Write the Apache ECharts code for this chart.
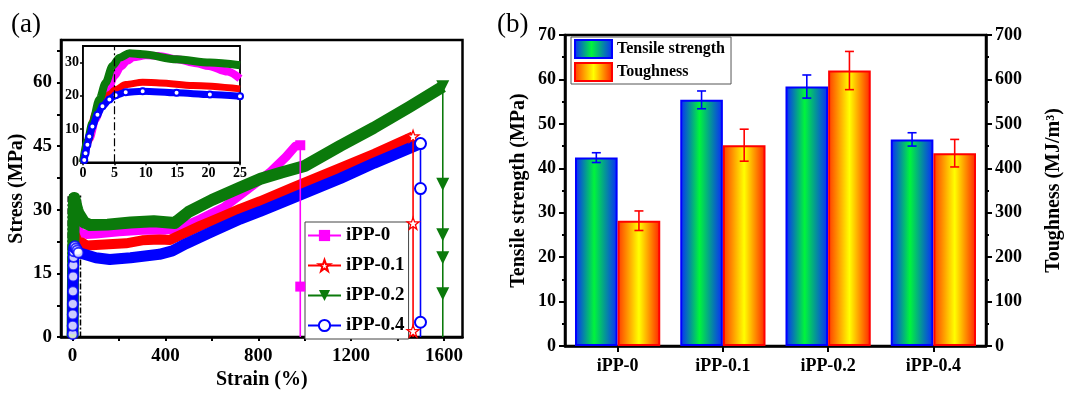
<!DOCTYPE html>
<html><head><meta charset="utf-8">
<script src="https://cdn.jsdelivr.net/npm/echarts@6/dist/echarts.min.js"></script>
<style>html,body{margin:0;padding:0;background:#fff}#c{width:1065px;height:395px}</style>
</head><body><div id="c"></div>
<script>
// ---------- Panel (a): stress-strain curves ----------
const sampleNames = ['iPP-0', 'iPP-0.1', 'iPP-0.2', 'iPP-0.4'];
// early part (0-25 % strain, also drawn in the inset)
const iPP0_early = [[0,0],[1,7],[2,13],[3,18],[4,22],[5,26],[6,28.8],[7,30.5],[8,31.6],[10,32.2],[12,32],[15,31],[18,29.8],[20,29],[23,27.3],[25,25.2]];
const iPP01_early = [[0,0],[0.7,5.8],[2,14.8],[3.1,18.4],[4.2,20.4],[5.2,21.9],[6.8,23.4],[9.5,24.1],[12.2,23.9],[17.5,23.1],[25,22.1]];
const iPP02_early = [[0,0],[0.7,6.3],[1.5,11.8],[2.6,18.9],[3.6,23.9],[4.7,29],[5.8,31.5],[7.4,32.8],[9.5,32.5],[14.9,31],[20.2,30],[25,29.2]];
const iPP04_early = [[0.2,0.7],[0.4,2.7],[0.7,5.3],[1,7.8],[1.5,10.8],[2.3,14.3],[3.1,16.9],[4.2,18.9],[5.2,20.2],[6.8,21.1],[9.5,21.4],[14.9,20.9],[20.2,20.4],[25,19.9]];
// later part (beyond 25 % strain)
const iPP0_late = [[35,24.5],[60,24.2],[100,24.3],[200,24.8],[300,25.2],[400,25.2],[460,25.6],[550,27.8],[650,30.5],[750,34.6],[850,38.8],[920,42.5],[960,45],[981,45.2]];
const iPP01_late = [[40,22.3],[60,21.6],[100,21.7],[230,22.1],[300,22.8],[374,23],[420,22.9],[460,23.9],[550,26.2],[650,28.5],[722,30.2],[808,32],[950,35.3],[1154,39.9],[1300,43.2],[1467,47.3]];
const iPP02_late = [[35,28.3],[50,27],[75,26.4],[150,26.5],[250,27],[350,27.3],[440,26.9],[500,29.5],[600,32.3],[720,35.2],[810,37.3],[900,38.8],[1000,40.3],[1154,45.1],[1297,49.3],[1450,54.2],[1595,59]];
const iPP04_late = [[50,19.5],[100,18.7],[160,18.3],[250,18.7],[374,19.5],[430,20.3],[489,22],[600,24.8],[722,27.8],[808,29.6],[950,32.8],[1154,37.4],[1300,41],[1499,45.6]];
// fracture: strain at break, stress at break, markers on the drop line
const breakStrain = [981, 1467, 1595, 1499];
const breakStress = [45.2, 47.3, 59, 45.6];
const dropMarks = [[11.9], [26.8, 1.4], [36, 24.1, 18.7, 10.2], [35, 3.5]];
// dashed zoom box [xFrom, xTo, yTo] and inset guide line
const zoomBox = [-19, 34, 33.5];
const insetGuide = 5;
// tick labels and tick marks
const strainTicks = [0, 400, 800, 1200, 1600];
const strainTickMarks = [0, 200, 400, 600, 800, 1000, 1200, 1400, 1600];
const stressTicks = [0, 15, 30, 45, 60];
const stressTickMarks = [0, 7.5, 15, 22.5, 30, 37.5, 45, 52.5, 60, 67.5];

// ---------- Panel (b): bars ----------
const categories = ['iPP-0', 'iPP-0.1', 'iPP-0.2', 'iPP-0.4'];
const tensile = [42.4, 55.4, 58.4, 46.5];
const tensileErr = [1.1, 2.0, 2.6, 1.5];
const toughness = [282, 452, 620, 434];
const toughnessErr = [22, 36, 43, 31];

const FONT = 'Liberation Serif';
const colors = ['#ff00ff', '#ff0000', '#0b7a0b', '#0000ff'];
const bandWidths = [9, 10, 12, 11];
const insetWidths = [8, 7, 8, 7];
const early = [iPP0_early, iPP01_early, iPP02_early, iPP04_early];
const late = [iPP0_late, iPP01_late, iPP02_late, iPP04_late];
const starPath = 'path://M12,0 L14.9,8.3 L23.4,8.3 L16.5,13.5 L19.1,22 L12,16.8 L4.9,22 L7.5,13.5 L0.6,8.3 L9.1,8.3 Z';
const symbols = ['rect', starPath, 'triangle', 'emptyCircle'];
const symbolSizes = [10, 12, 13, 11];

const lbl = (size) => ({ fontFamily: FONT, fontWeight: 'bold', fontSize: size, color: '#000' });
const plain = (v) => String(v);
const axisLineStyle = (w) => ({ show: true, onZero: false, lineStyle: { color: '#000', width: w } });

const series = [];
// main bands
for (let i = 0; i < 4; i++) {
  series.push({
    type: 'line', name: sampleNames[i] + ' curve', xAxisIndex: 0, yAxisIndex: 0,
    data: early[i].concat(late[i]), showSymbol: false, symbol: 'none', smooth: false,
    lineStyle: { color: colors[i], width: bandWidths[i], cap: 'butt', join: 'round' },
    z: 2 + i * 0.1, silent: true
  });
}
// drop lines with markers (legend entries)
for (let i = 0; i < 4; i++) {
  const d = [{ value: [breakStrain[i], breakStress[i]] }]
    .concat(dropMarks[i].map(m => ({ value: [breakStrain[i], m] })))
    .concat([{ value: [breakStrain[i], 0], symbol: 'none' }]);
  const hollowStar = i === 1;
  series.push({
    type: 'line', name: sampleNames[i], xAxisIndex: 0, yAxisIndex: 0, data: d,
    symbol: symbols[i], symbolSize: symbolSizes[i], symbolRotate: i === 2 ? 180 : 0,
    showSymbol: true, showAllSymbol: true,
    lineStyle: { color: colors[i], width: 1.6 },
    itemStyle: hollowStar ? { color: '#fff', borderColor: colors[i], borderWidth: 1.3 }
                          : { color: colors[i], borderWidth: i === 3 ? 1.5 : 0, borderColor: colors[i] },
    z: 4
  });
}
// hollow circles of the iPP-0.4 elastic region in main plot + dashed zoom box
series.push({
  type: 'scatter', name: 'iPP-0.4 early', xAxisIndex: 0, yAxisIndex: 0, data: iPP04_early,
  symbol: 'emptyCircle', symbolSize: 10, itemStyle: { color: colors[3], borderWidth: 1.2 }, z: 5, silent: true,
  markArea: { silent: true, itemStyle: { color: 'rgba(0,0,0,0)', borderColor: '#000', borderWidth: 1.5, borderType: [6, 2, 2, 2] },
    data: [[{ coord: [zoomBox[0], 0] }, { coord: [zoomBox[1], zoomBox[2]] }]] }
});
// inset
for (let i = 0; i < 4; i++) {
  series.push({
    type: 'line', name: sampleNames[i] + ' inset', xAxisIndex: 1, yAxisIndex: 1,
    data: early[i], smooth: 0.3, smoothMonotone: 'x',
    symbol: i === 3 ? 'emptyCircle' : 'none', showSymbol: i === 3, showAllSymbol: true, symbolSize: 6,
    itemStyle: { color: colors[i], borderWidth: 1 },
    lineStyle: { color: colors[i], width: insetWidths[i] },
    z: 3, silent: true,
    markLine: i === 0 ? { silent: true, symbol: 'none', label: { show: false },
      lineStyle: { color: '#000', width: 1.2, type: [8, 3, 2, 3] }, data: [{ xAxis: insetGuide }] } : undefined
  });
}
// bars
const GAP = 0.19;
const blueGrad = { type: 'linear', x: 0, y: 0, x2: 1, y2: 0, colorStops: [
  { offset: 0, color: '#0a28ff' }, { offset: 0.45, color: '#00f53c' }, { offset: 1, color: '#0a28ff' }] };
const orangeGrad = { type: 'linear', x: 0, y: 0, x2: 1, y2: 0, colorStops: [
  { offset: 0, color: '#ff3a00' }, { offset: 0.5, color: '#ffff00' }, { offset: 1, color: '#ff2200' }] };
series.push({
  type: 'bar', name: 'Tensile strength', xAxisIndex: 2, yAxisIndex: 2, data: tensile,
  barGap: '0%', barCategoryGap: (GAP * 100) + '%',
  itemStyle: { color: blueGrad, borderColor: '#0000ff', borderWidth: 2 }, z: 2
});
series.push({
  type: 'bar', name: 'Toughness', xAxisIndex: 2, yAxisIndex: 3, data: toughness,
  barGap: '0%', barCategoryGap: (GAP * 100) + '%',
  itemStyle: { color: orangeGrad, borderColor: '#ff0000', borderWidth: 2 }, z: 2
});
function errorBars(name, vals, errs, yIdx, side, color) {
  return {
    type: 'custom', name: name, xAxisIndex: 2, yAxisIndex: yIdx, silent: true, z: 6,
    data: vals.map((v, i) => [i, v - errs[i], v + errs[i]]),
    renderItem: function (params, api) {
      const i = api.value(0);
      const lo = api.coord([i, api.value(1)]);
      const hi = api.coord([i, api.value(2)]);
      const band = api.size([1, 0])[0];
      const bw = band * (1 - GAP) / 2;
      const x = lo[0] + side * bw / 2;
      const cap = 4.5;
      const st = { stroke: color, lineWidth: 1.6 };
      return { type: 'group', children: [
        { type: 'line', shape: { x1: x, y1: lo[1], x2: x, y2: hi[1] }, style: st },
        { type: 'line', shape: { x1: x - cap, y1: lo[1], x2: x + cap, y2: lo[1] }, style: st },
        { type: 'line', shape: { x1: x - cap, y1: hi[1], x2: x + cap, y2: hi[1] }, style: st }
      ] };
    }
  };
}
series.push(errorBars('tensile err', tensile, tensileErr, 2, -1, '#0000ff'));
series.push(errorBars('toughness err', toughness, toughnessErr, 3, 1, '#ff0000'));

const option = {
  animation: false,
  backgroundColor: '#fff',
  textStyle: { fontFamily: FONT },
  graphic: [
    { type: 'text', left: 11, top: 11, style: { text: '(a)', font: '27px "Liberation Serif"', fill: '#000' } },
    { type: 'text', left: 497, top: 11, style: { text: '(b)', font: '27px "Liberation Serif"', fill: '#000' } }
  ],
  grid: [
    { left: 61, top: 40, right: 1065 - 462.5, bottom: 395 - 341, show: true, borderColor: '#000', borderWidth: 2.5, backgroundColor: 'rgba(0,0,0,0)' },
    { left: 83, top: 46, width: 157, height: 116.3, show: true, borderColor: '#000', borderWidth: 1.8, backgroundColor: '#fff', z: 1 },
    { left: 565, top: 35, right: 1065 - 986, bottom: 395 - 346, show: true, borderColor: '#000', borderWidth: 2.5 }
  ],
  legend: [
    { data: sampleNames, left: 305, top: 222, orient: 'vertical', itemWidth: 33, itemHeight: 14, itemGap: 11,
      padding: [4, 4, 4, 2], borderColor: '#444', borderWidth: 1, backgroundColor: '#fff',
      textStyle: lbl(19), selectedMode: false, symbolRotate: 'inherit' },
    { data: ['Tensile strength', 'Toughness'], left: 571, top: 37, orient: 'vertical', icon: 'rect',
      itemWidth: 37, itemHeight: 18, itemGap: 3, padding: [2, 6, 2, 3], borderColor: '#555', borderWidth: 1,
      textStyle: lbl(16), selectedMode: false }
  ],
  xAxis: [
    { gridIndex: 0, type: 'value', min: -50, max: 1680, position: 'bottom',
      axisLine: axisLineStyle(2.5), splitLine: { show: false },
      axisTick: { show: true, length: 4, customValues: strainTickMarks, lineStyle: { color: '#000', width: 2 } },
      axisLabel: { customValues: strainTicks, margin: 9, formatter: plain, ...lbl(19) },
      name: 'Strain (%)', nameLocation: 'middle', nameGap: 32, nameTextStyle: lbl(20) },
    { gridIndex: 1, type: 'value', min: 0, max: 25, interval: 5, position: 'bottom',
      axisLine: axisLineStyle(1.8), splitLine: { show: false },
      axisTick: { show: true, length: 3, lineStyle: { color: '#000', width: 1.5 } },
      axisLabel: { margin: 4, formatter: plain, ...lbl(14) } },
    { gridIndex: 2, type: 'category', data: categories, position: 'bottom',
      axisLine: axisLineStyle(2.5),
      axisTick: { show: true, alignWithLabel: true, length: 6, lineStyle: { color: '#000', width: 2 } },
      axisLabel: { margin: 11, ...lbl(18) } }
  ],
  yAxis: [
    { gridIndex: 0, type: 'value', min: 0, max: 70, position: 'left',
      axisLine: axisLineStyle(2.5), splitLine: { show: false },
      axisTick: { show: true, length: 4, customValues: stressTickMarks, lineStyle: { color: '#000', width: 2 } },
      axisLabel: { customValues: stressTicks, margin: 9, formatter: plain, ...lbl(19) },
      name: 'Stress (MPa)', nameLocation: 'middle', nameGap: 34, nameTextStyle: lbl(20) },
    { gridIndex: 1, type: 'value', min: 0, max: 35, interval: 10, position: 'left',
      axisLine: axisLineStyle(1.8), splitLine: { show: false },
      axisTick: { show: true, length: 3, lineStyle: { color: '#000', width: 1.5 } },
      axisLabel: { margin: 4, showMaxLabel: false, formatter: plain, ...lbl(14) } },
    { gridIndex: 2, type: 'value', min: 0, max: 70, interval: 10, position: 'left',
      axisLine: axisLineStyle(2.5), splitLine: { show: false },
      axisTick: { show: true, length: 6, lineStyle: { color: '#000', width: 2 } },
      minorTick: { show: true, splitNumber: 2, length: 3, lineStyle: { color: '#000', width: 2 } },
      axisLabel: { margin: 9, ...lbl(18) },
      name: 'Tensile strength (MPa)', nameLocation: 'middle', nameGap: 36, nameTextStyle: lbl(20) },
    { gridIndex: 2, type: 'value', min: 0, max: 700, interval: 100, position: 'right',
      axisLine: axisLineStyle(2.5), splitLine: { show: false },
      axisTick: { show: true, length: 6, lineStyle: { color: '#000', width: 2 } },
      minorTick: { show: true, splitNumber: 2, length: 3, lineStyle: { color: '#000', width: 2 } },
      axisLabel: { margin: 9, ...lbl(18) },
      name: 'Toughness (MJ/m³)', nameLocation: 'middle', nameGap: 58, nameTextStyle: lbl(20) }
  ],
  series: series
};
const chart = echarts.init(document.getElementById('c'), null, { renderer: 'canvas' });
chart.setOption(option);
</script></body></html>
